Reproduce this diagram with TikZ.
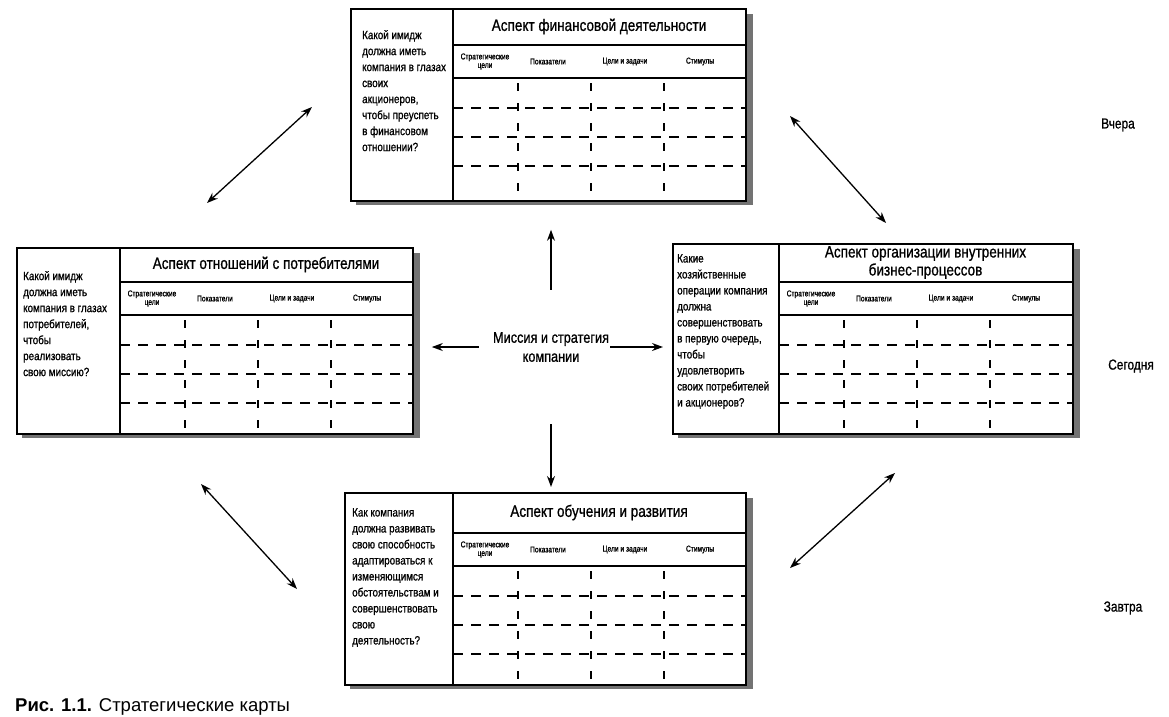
\documentclass[tikz,border=0pt]{standalone}
\usepackage{fontspec}
\setmainfont{Liberation Sans}
\newfontfamily\narrowf[FakeStretch=0.82,FakeBold=0.9]{Liberation Sans}
\newfontfamily\tinyf[FakeStretch=0.78,FakeBold=1.2]{Liberation Sans}
\usetikzlibrary{arrows.meta}

\tikzset{
  frame/.style={draw, line width=1.8pt, fill=white},
  innerline/.style={line width=1.5pt},
  hdash/.style={line width=1.4pt, dash pattern=on 10pt off 8pt},
  vdash/.style={line width=1.4pt, dash pattern=on 8pt off 12pt, dash phase=15pt},
  shadowfill/.style={fill=black!55},
  question/.style={anchor=north west, inner sep=0, align=left, font=\narrowf\fontsize{12}{16}\selectfont},
  titletext/.style={align=center, inner sep=0, font=\narrowf\fontsize{16.5}{18}\selectfont},
  headtext/.style={align=center, inner sep=0, font=\tinyf\fontsize{8.5}{8.5}\selectfont},
  sidelabel/.style={font=\narrowf\fontsize{14.5}{16}\selectfont, inner sep=0},
  missiontext/.style={align=center, inner sep=0, font=\narrowf\fontsize{15.5}{19}\selectfont},
  arr/.style={line width=1.3pt, -{Stealth[length=11pt,width=8pt]}},
  darr/.style={line width=1.3pt, {Stealth[length=11pt,width=8pt]}-{Stealth[length=11pt,width=8pt]}},
}

% #1 name, #2 x, #3 y, #4 w, #5 h, #6 divider offset, #7 title row height, #8 title text
\newcommand\cardbox[8]{%
  \fill[shadowfill] (#2+6,#3+#5) rectangle (#2+#4+8,#3+#5+5);
  \fill[shadowfill] (#2+#4,#3+6) rectangle (#2+#4+8,#3+#5+5);
  \node[frame, anchor=north west, inner sep=0, minimum width=#4pt, minimum height=#5pt] (#1) at (#2,#3) {};
  \draw[innerline] (#2+#6,#3) -- (#2+#6,#3+#5);
  \draw[innerline] (#2+#6,#3+#7) -- (#2+#4,#3+#7);
  \draw[innerline] (#2+#6,#3+#7+33) -- (#2+#4,#3+#7+33);
  \foreach \dx in {65,138,211} {\draw[vdash] (#2+#6+\dx,#3+#7+33) -- (#2+#6+\dx,#3+#5);}
  \foreach \dy in {30,59,88} {\draw[hdash] (#2+#6,#3+#7+33+\dy) -- (#2+#4,#3+#7+33+\dy);}
  \node[titletext] (#1-title) at (#2+#6/2+#4/2,#3+#7/2) {#8};
  \node[headtext] (#1-h1) at (#2+#6+32,#3+#7+16.5) {Стратегические\\цели};
  \node[headtext] (#1-h2) at (#2+#6+95,#3+#7+16.5) {Показатели};
  \node[headtext] (#1-h3) at (#2+#6+172,#3+#7+16.5) {Цели и задачи};
  \node[headtext] (#1-h4) at (#2+#6+247,#3+#7+16.5) {Стимулы};
}

\begin{document}
\begin{tikzpicture}[x=1pt,y=-1pt]
\useasboundingbox (0,0) rectangle (1169,716);
\clip (0,0) rectangle (1169,716);
\fill[white] (0,0) rectangle (1169,716);

% cards
\cardbox{fin}{350}{8}{395}{192}{103}{37}{Аспект финансовой деятельности}
\cardbox{cust}{16}{247}{396}{186}{104}{35}{Аспект отношений с потребителями}
\cardbox{proc}{672}{243}{400}{190}{107}{39}{Аспект организации внутренних\\бизнес-процессов}
\cardbox{learn}{344}{492}{401}{192}{109}{41}{Аспект обучения и развития}

% questions
\node[question] (finq) at (362,30) {Какой имидж\\должна иметь\\компания в глазах\\своих\\акционеров,\\чтобы преуспеть\\в финансовом\\отношении?};
\node[question] (custq) at (23,271) {Какой имидж\\должна иметь\\компания в глазах\\потребителей,\\чтобы\\реализовать\\свою миссию?};
\node[question] (procq) at (677,254) {Какие\\хозяйственные\\операции компания\\должна\\совершенствовать\\в первую очередь,\\чтобы\\удовлетворить\\своих потребителей\\и акционеров?};
\node[question] (learnq) at (352,508) {Как компания\\должна развивать\\свою способность\\адаптироваться к\\изменяющимся\\обстоятельствам и\\совершенствовать\\свою\\деятельность?};

% mission
\node[missiontext] (mission) at (551,347) {Миссия и стратегия\\компании};

\draw[arr, shorten <=42pt, shorten >=28pt] (mission.north) -- (mission.north |- fin.south);
\draw[arr, shorten <=62pt, shorten >=5pt] (mission.south) -- (mission.south |- learn.north);
\draw[arr, shorten <=14pt, shorten >=18pt] (mission.west) -- (mission.west -| cust.east);
\draw[arr, shorten <=1pt, shorten >=9pt] (mission.east) -- (mission.east -| proc.west);

% diagonal arrows
\coordinate (tl1) at (207,203); \coordinate (tl2) at (312,107);
\coordinate (tr1) at (790,116); \coordinate (tr2) at (886,223);
\coordinate (bl1) at (201,484); \coordinate (bl2) at (297,589);
\coordinate (br1) at (790,568); \coordinate (br2) at (895,473);
\draw[darr] (tl1) -- (tl2);
\draw[darr] (tr1) -- (tr2);
\draw[darr] (bl1) -- (bl2);
\draw[darr] (br1) -- (br2);

% side labels
\node[sidelabel] (yesterday) at (1118,125) {Вчера};
\node[sidelabel] (today) at (1131,366) {Сегодня};
\node[sidelabel] (tomorrow) at (1123,608) {Завтра};

% caption
\node[anchor=base west, inner sep=0, font=\fontsize{18.5}{20}\selectfont] (caption) at (15,711) {\textbf{Рис. 1.1.} Стратегические карты};
\end{tikzpicture}
\end{document}
